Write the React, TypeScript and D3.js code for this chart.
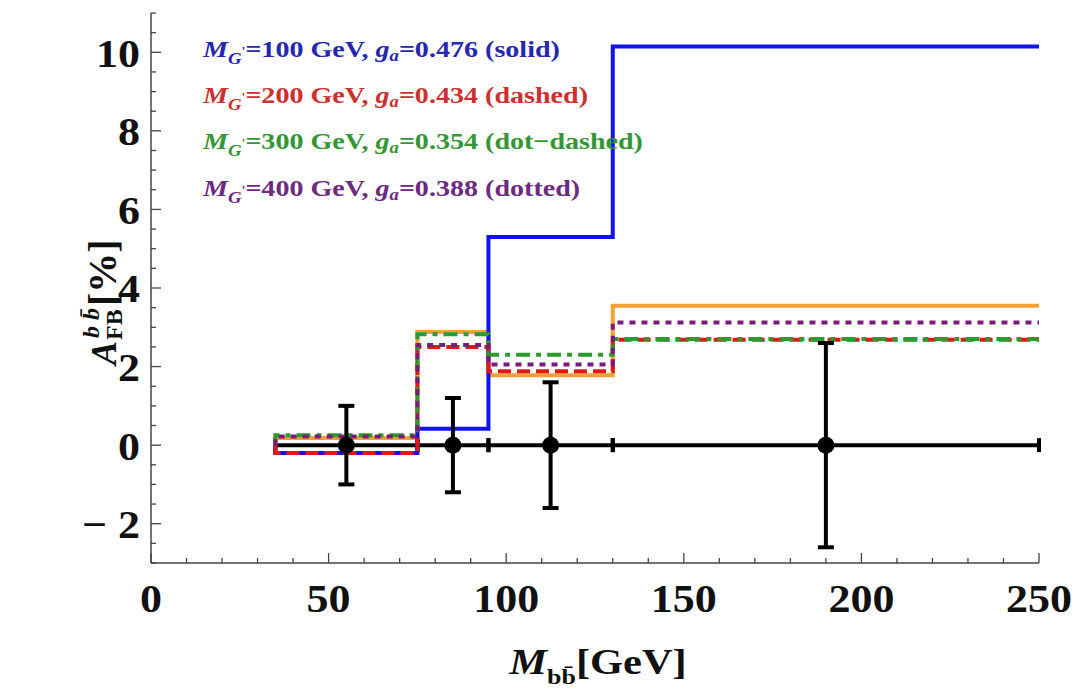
import React from "react";
import * as d3 from "d3";

// ---- data ----
const binEdges = [35, 75, 95, 130, 250];
const blueVals = [-0.2, 0.42, 5.3, 10.15];
const redVals = [-0.2, 2.5, 1.88, 2.68];
const greenVals = [0.25, 2.82, 2.3, 2.7];
const purpleVals = [0.22, 2.55, 2.05, 3.12];
const orangeVals = [0.18, 2.88, 1.78, 3.55];

const dataX = [55, 85, 112.5, 190];
const dataY = [0, 0, 0, 0];
const dataErr = [1.0, 1.2, 1.6, 2.6];
const binLow = [35, 75, 95, 130];
const binHigh = [75, 95, 130, 250];

const xTicks = [0, 50, 100, 150, 200, 250];
const yTicks = [-2, 0, 2, 4, 6, 8, 10];

const legendMass = ["100", "200", "300", "400"];
const legendCoupling = ["0.476", "0.434", "0.354", "0.388"];
const legendStyle = ["solid", "dashed", "dot\u2212dashed", "dotted"];
const legendColors = ["#2626b0", "#cc3030", "#349634", "#6e2a80"];

const W = 1072, H = 694;
const x = d3.scaleLinear().domain([0, 250]).range([151, 1039]);
const y = d3.scaleLinear().domain([-3, 11]).range([563, 13]);

const serif = "'Liberation Serif', 'Times New Roman', serif";
const SX = 1.1; // horizontal stretch of the reference text

function stepPath(vals: number[]) {
  const pts: [number, number][] = [[binEdges[0], 0]];
  vals.forEach((v, i) => pts.push([binEdges[i], v]));
  pts.push([binEdges[binEdges.length - 1], vals[vals.length - 1]]);
  const line = d3
    .line<[number, number]>()
    .x((d) => x(d[0]))
    .y((d) => y(d[1]))
    .curve(d3.curveStepAfter);
  return line(pts) || "";
}

const series = [
  { vals: orangeVals, color: "#f5a033", dash: "" },
  { vals: blueVals, color: "#1212ee", dash: "" },
  { vals: redVals, color: "#e01818", dash: "13,6" },
  { vals: greenVals, color: "#2c9a2c", dash: "14,6,5,6" },
  { vals: purpleVals, color: "#781c7c", dash: "6,6" },
];

export default function App() {
  const yMinor = d3.range(-3, 11.01, 0.5);
  const xMinor = d3.range(0, 250.01, 10);
  const y0 = y.range()[0];
  const x0 = x.range()[0];
  return (
    <svg
      width={W}
      height={H}
      style={{ position: "absolute", left: 0, top: 0, background: "#fff" }}
      fontFamily={serif}
    >
      {/* axes */}
      <line x1={x0} x2={x0} y1={y.range()[1]} y2={y0} stroke="#444" strokeWidth={1.5} />
      <line x1={x0} x2={x.range()[1]} y1={y0} y2={y0} stroke="#444" strokeWidth={1.5} />
      {yMinor.map((t) => {
        const major = Math.abs(t % 2) < 1e-6;
        return (
          <line key={"ym" + t} x1={x0} x2={x0 + (major ? 10 : 5)} y1={y(t)} y2={y(t)} stroke="#444" strokeWidth={1.3} />
        );
      })}
      {xMinor.map((t) => {
        const major = Math.abs(t % 50) < 1e-6;
        return (
          <line key={"xm" + t} x1={x(t)} x2={x(t)} y1={y0} y2={y0 - (major ? 10 : 5)} stroke="#444" strokeWidth={1.3} />
        );
      })}
      {yTicks.map((t) => (
        <g key={"yl" + t} transform={`translate(140,${y(t)}) scale(${SX},1)`}>
          <text x={0} y={0} dy="0.36em" textAnchor="end" fontSize={40} fontWeight="bold" fill="#111">
            {t < 0 ? "\u2212 " + Math.abs(t) : t}
          </text>
        </g>
      ))}
      {xTicks.map((t) => (
        <g key={"xl" + t} transform={`translate(${x(t)},612) scale(${SX},1)`}>
          <text x={0} y={0} textAnchor="middle" fontSize={40} fontWeight="bold" fill="#111">
            {t}
          </text>
        </g>
      ))}

      {/* horizontal error bars */}
      {dataX.map((d, i) => (
        <g key={"h" + i} stroke="#000" strokeWidth={4}>
          <line x1={x(binLow[i])} x2={x(binHigh[i])} y1={y(dataY[i])} y2={y(dataY[i])} />
          <line x1={x(binLow[i])} x2={x(binLow[i])} y1={y(dataY[i]) - 7} y2={y(dataY[i]) + 7} />
          <line x1={x(binHigh[i])} x2={x(binHigh[i])} y1={y(dataY[i]) - 7} y2={y(dataY[i]) + 7} />
        </g>
      ))}

      {/* model steps */}
      {series.map((s, i) => (
        <path key={"s" + i} d={stepPath(s.vals)} fill="none" stroke={s.color} strokeWidth={4} strokeDasharray={s.dash || undefined} />
      ))}

      {/* vertical error bars and points */}
      {dataX.map((d, i) => (
        <g key={"v" + i} stroke="#000" strokeWidth={4}>
          <line x1={x(d)} x2={x(d)} y1={y(dataY[i] - dataErr[i])} y2={y(dataY[i] + dataErr[i])} />
          <line x1={x(d) - 8} x2={x(d) + 8} y1={y(dataY[i] - dataErr[i])} y2={y(dataY[i] - dataErr[i])} />
          <line x1={x(d) - 8} x2={x(d) + 8} y1={y(dataY[i] + dataErr[i])} y2={y(dataY[i] + dataErr[i])} />
          <circle cx={x(d)} cy={y(dataY[i])} r={8.5} fill="#000" stroke="none" />
        </g>
      ))}

      {/* legend */}
      {legendMass.map((m, i) => (
        <g key={"lg" + i} transform={`translate(203,${57 + i * 46.2}) scale(1.17,1)`}>
          <text x={0} y={0} fontSize={24} fontWeight="bold" fill={legendColors[i]}>
            <tspan fontStyle="italic">M</tspan>
            <tspan fontStyle="italic" fontSize={16} dy={7}>G</tspan>
            <tspan fontSize={12} dy={-9}>'</tspan>
            <tspan dy={2}>{"=" + m + " GeV, "}</tspan>
            <tspan fontStyle="italic">g</tspan>
            <tspan fontStyle="italic" fontSize={16} dy={4}>a</tspan>
            <tspan dy={-4}>{"=" + legendCoupling[i] + " (" + legendStyle[i] + ")"}</tspan>
          </text>
        </g>
      ))}

      {/* y label */}
      <g transform="translate(116,292) rotate(-90)" fontWeight="bold" fill="#111">
        <text x={-73} y={0} fontSize={36} fontStyle="italic">A</text>
        <text x={-46} y={-17} fontSize={24} fontStyle="italic">{"b b\u0304"}</text>
        <text x={-48} y={6} fontSize={24}>FB</text>
        <text x={-14} y={0} fontSize={40}>[%]</text>
      </g>

      {/* x label */}
      <g transform={`translate(598,674) scale(1.18,1)`}>
        <text x={0} y={0} textAnchor="middle" fontSize={36} fontWeight="bold" fill="#111">
          <tspan fontStyle="italic">M</tspan>
          <tspan fontSize={22} dy={10}>{"bb\u0304"}</tspan>
          <tspan dy={-10}>[GeV]</tspan>
        </text>
      </g>
    </svg>
  );
}
